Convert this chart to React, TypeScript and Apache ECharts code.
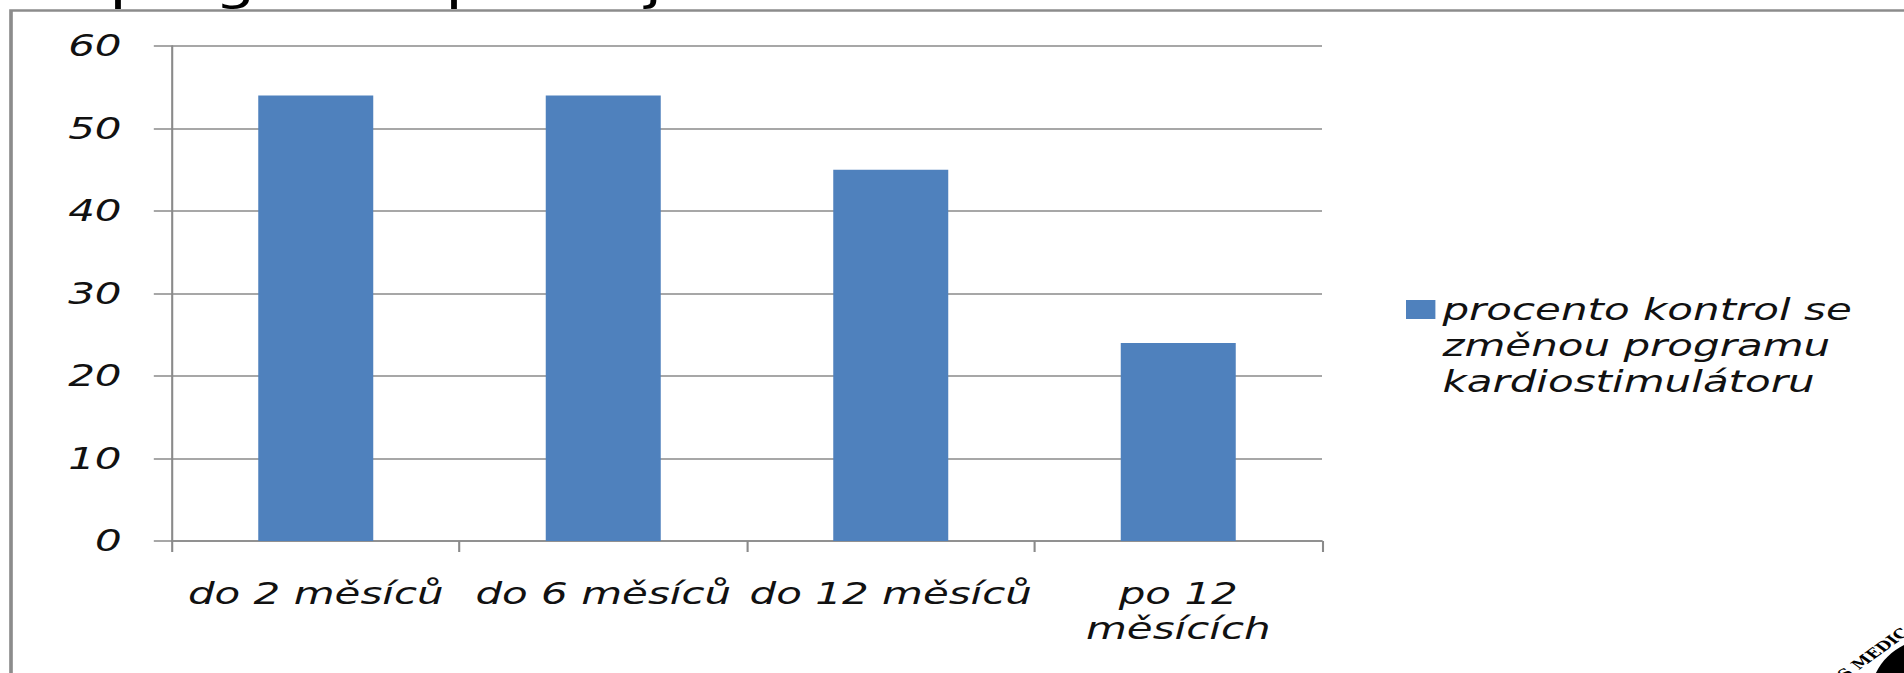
import React, { useEffect, useRef } from "react";
import * as echarts from "echarts";

const categories = ["do 2 měsíců", "do 6 měsíců", "do 12 měsíců", "po 12 měsících"];
const seriesName = "procento kontrol se změnou programu kardiostimulátoru";
const values = [54, 54, 45, 24];
const yMin = 0;
const yMax = 60;
const yInterval = 10;
const titleText = "programu podle jednotlivé kontrole";
const logoText = "S MEDICA";

const SX = 1.4;
const W = 1904;
const H = 673;
const CW = W / SX;

// wrap long category labels at their last space (as the original chart does)
const wrapLabel = (v: string) => (v.length > 12 ? v.replace(/ (?=\S+$)/, "\n") : v);

// greedy word wrap by character count
const wrapWords = (s: string, max: number) => {
  const lines: string[] = [];
  let cur = "";
  for (const w of s.split(" ")) {
    if (cur && (cur + " " + w).length > max) {
      lines.push(cur);
      cur = w;
    } else {
      cur = cur ? cur + " " + w : w;
    }
  }
  if (cur) lines.push(cur);
  return lines.join("\n");
};

export default function App() {
  const ref = useRef<HTMLDivElement>(null);
  useEffect(() => {
    document.body.style.margin = "0";
    document.body.style.overflow = "hidden";
    const chart = echarts.init(ref.current!, null, { renderer: "svg", width: CW, height: H });
    const font = "DejaVu Sans";
    const gray = "#8a8a8a";
    const txt = "#111111";
    const iconW = 21;
    const iconH = 91;
    chart.setOption({
      animation: false,
      backgroundColor: "#ffffff",
      grid: { left: 172 / SX, right: CW - 1322 / SX, top: 46, bottom: H - 541, containLabel: false },
      xAxis: {
        type: "category",
        data: categories,
        boundaryGap: true,
        axisLine: { show: true, lineStyle: { color: gray, width: 1.5 } },
        axisTick: { show: true, alignWithLabel: false, length: 11, inside: false, lineStyle: { color: gray, width: 1.5 } },
        axisLabel: {
          interval: 0, margin: 35, color: txt, fontFamily: font, fontStyle: "italic", fontSize: 30,
          lineHeight: 35, align: "center", formatter: wrapLabel,
        },
        splitLine: { show: false },
      },
      yAxis: {
        type: "value",
        min: yMin,
        max: yMax,
        interval: yInterval,
        axisLine: { show: true, lineStyle: { color: gray, width: 1.5 } },
        axisTick: { show: true, length: 13, inside: false, lineStyle: { color: gray, width: 1.5 } },
        axisLabel: { margin: 36, color: txt, fontFamily: font, fontStyle: "italic", fontSize: 30 },
        splitLine: { show: true, lineStyle: { color: gray, width: 1.5 } },
      },
      legend: {
        show: true,
        left: 1406 / SX,
        top: 291.5,
        padding: 0,
        orient: "vertical",
        itemWidth: iconW,
        itemHeight: iconH,
        icon: `path://M0,0H${iconW}V19H0Z M0,${iconH}H0.01V${iconH + 0.01}Z`,
        selectedMode: false,
        formatter: (name: string) => wrapWords(name, 19),
        textStyle: {
          fontFamily: font, fontStyle: "italic", fontSize: 30, lineHeight: 36, color: txt,
        },
      },
      series: [
        {
          type: "bar",
          name: seriesName,
          data: values,
          barWidth: "40%",
          itemStyle: { color: "#4F81BD" },
        },
      ],
      graphic: [
        {
          type: "rect",
          silent: true,
          shape: { x: 11 / SX, y: 10.5, width: (1915 - 11) / SX, height: 720 },
          style: { fill: "none", stroke: "#8c8c8c", lineWidth: 2.6 },
        },
        {
          type: "text",
          silent: true,
          x: 78,
          y: -17,
          style: { text: titleText, fontFamily: font, fontSize: 46, fill: "#000000", verticalAlign: "middle", align: "left" },
        },
        {
          type: "ellipse",
          silent: true,
          shape: { cx: 1930 / SX, cy: 699, rx: 60 / SX, ry: 60 },
          style: { fill: "#000000" },
        },
        {
          type: "text",
          silent: true,
          x: 1878 / SX,
          y: 650,
          rotation: Math.PI / 4,
          style: { text: logoText, fontFamily: "DejaVu Serif", fontWeight: "bold", fontSize: 13, fill: "#000000", align: "center", verticalAlign: "middle" },
        },
      ],
    });
    return () => chart.dispose();
  }, []);
  return (
    <div
      ref={ref}
      style={{
        position: "absolute",
        left: 0,
        top: 0,
        width: CW,
        height: H,
        transform: `scaleX(${SX})`,
        transformOrigin: "0 0",
      }}
    />
  );
}
